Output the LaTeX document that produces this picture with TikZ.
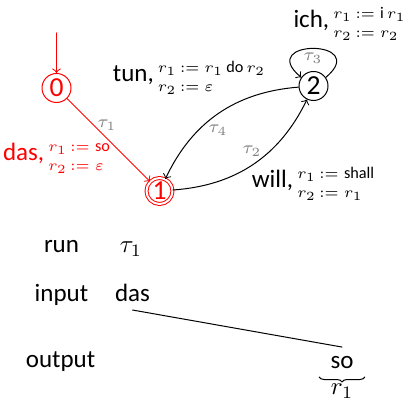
\documentclass[tikz,border=0pt]{standalone}
\usepackage{fontspec}
\setmainfont{Carlito}
\usetikzlibrary{decorations.pathreplacing}

% register update written next to a transition
\newcommand\regupd[3]{#1,\,{\fontsize{6.5}{7.8}\selectfont\begin{tabular}{@{}l@{\ }l@{}}$r_1$ & $:= #2$\\ $r_2$ & $:= #3$\end{tabular}}}

\tikzset{
  state/.style={circle,draw,minimum size=11.6pt,inner sep=0pt,font=\fontsize{11}{13}\selectfont},
  final/.style={double,double distance=0.8pt,minimum size=10.4pt},
  trname/.style={gray,font=\scriptsize,inner sep=0pt},
  trlabel/.style={inner sep=0pt},
}

\begin{document}
\begin{tikzpicture}[x=0.4pt,y=0.4pt,line cap=round,line join=round]
  \useasboundingbox (0,0) rectangle (411,-404);
  % the automaton
  \node[state,red] (q0) at (56.5,-88) {0};
  \node[state,final,red] (q1) at (159.5,-191) {1};
  \node[state] (q2) at (313.5,-86) {2};
  \coordinate (start) at (56.5,-33);
  \draw[->,red] (start) -- (q0);
  \draw[->,red] (q0) -- (q1);
  \draw[->] (q1) to[bend right=30] (q2);
  \draw[->] (q2) to[bend right=30] (q1);
  \draw[->] (q2.35) .. controls +(40:60) and +(140:60) .. (q2.145);
  \node[trname] (tau1) at (107,-125) {$\tau_1$};
  \node[trname] (tau2) at (252,-151) {$\tau_2$};
  \node[trname] (tau3) at (313,-58) {$\tau_3$};
  \node[trname] (tau4) at (218,-130) {$\tau_4$};
  \node[trlabel,red] (lab1) at (56.5,-157) {\regupd{das}{\mbox{so}}{\varepsilon}};
  \node[trlabel] (lab2) at (313,-184) {\regupd{will}{\mbox{shall}}{r_1}};
  \node[trlabel,anchor=east] (lab3) at (406,-24) {\regupd{ich}{\mbox{i}\,r_1}{r_2}};
  \node[trlabel] (lab4) at (189,-78) {\regupd{tun}{r_1\,\mbox{do}\,r_2}{\varepsilon}};
  % the run
  \node[anchor=base] (run) at (61.5,-253) {run};
  \node[anchor=base] (rtau) at (131,-253) {$\tau_1$};
  \node[anchor=base] (inp) at (61.5,-301) {input};
  \node[anchor=base] (das) at (132.5,-301) {das};
  \node[anchor=base] (outp) at (60.5,-367) {output};
  \node[anchor=base] (so) at (342,-368) {so};
  \draw (das.south) -- (so.north);
  \draw[decorate,decoration={brace,mirror,amplitude=2pt}]
    ([xshift=-1pt]so.south west) -- ([xshift=1pt]so.south east) node[midway,below=2.5pt,inner sep=0pt] (reg) {$r_1$};
\end{tikzpicture}
\end{document}
